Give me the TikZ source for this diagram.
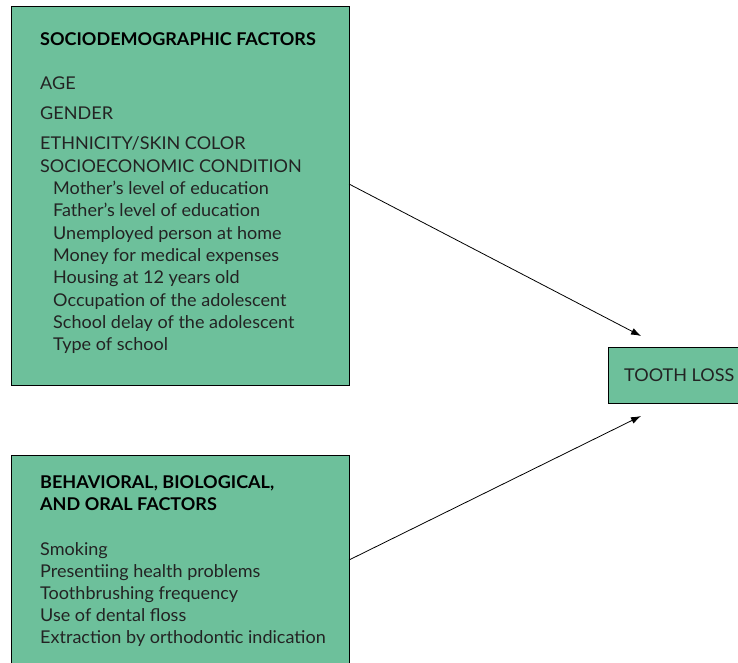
\documentclass[tikz,border=0pt]{standalone}
\usepackage{fontspec}
\setmainfont{Lato}[FakeStretch=1.025]
\usetikzlibrary{arrows.meta}

\definecolor{boxgreen}{RGB}{109,192,155}
\definecolor{inkgray}{RGB}{35,35,35}

\begin{document}
\begin{tikzpicture}[
    x=1pt, y=-1pt,
    factorbox/.style={draw=black, line width=0.8pt, fill=boxgreen, anchor=north west, inner sep=0pt},
    item/.style={anchor=base west, inner sep=0pt, text=inkgray, font=\fontsize{17.6}{19}\selectfont},
    head/.style={item, font=\fontsize{17.6}{19}\selectfont\bfseries, text=black},
    arrow/.style={-{Latex[length=10pt,width=7pt]}, line width=0.8pt}
  ]
  \useasboundingbox (0,0) rectangle (738,663);

  % Boxes
  \node[factorbox, minimum width=338pt, minimum height=379pt] (sociobox) at (11,6) {};
  \node[factorbox, minimum width=338pt, minimum height=230pt] (behavbox) at (11,455) {};
  \node[factorbox, minimum width=140pt, minimum height=56pt]  (lossbox)  at (608,347) {};

  % Sociodemographic factors
  \node[head] (sdhead) at (40,46)  {SOCIODEMOGRAPHIC FACTORS};
  \node[item] (age)    at (40,90)  {AGE};
  \node[item] (gender) at (40,120) {GENDER};
  \node[item] (ethn)   at (40,150) {ETHNICITY/SKIN COLOR};
  \node[item] (socio)  at (40,172) {SOCIOECONOMIC CONDITION};
  \node[item] (mother) at (53,194) {Mother’s level of education};
  \node[item] (father) at (53,216) {Father’s level of education};
  \node[item] (unemp)  at (53,239) {Unemployed person at home};
  \node[item] (money)  at (53,261) {Money for medical expenses};
  \node[item] (house)  at (53,283) {Housing at 12 years old};
  \node[item] (occup)  at (53,306) {Occupation of the adolescent};
  \node[item] (delay)  at (53,328) {School delay of the adolescent};
  \node[item] (school) at (53,350) {Type of school};

  % Behavioral, biological and oral factors
  \node[head] (bhead1) at (40,488) {BEHAVIORAL, BIOLOGICAL,};
  \node[head] (bhead2) at (40,510) {AND ORAL FACTORS};
  \node[item] (smoke)  at (40,555) {Smoking};
  \node[item] (health) at (40,577) {Presentiing health problems};
  \node[item] (brush)  at (40,599) {Toothbrushing frequency};
  \node[item] (floss)  at (40,621) {Use of dental floss};
  \node[item] (extr)   at (40,643) {Extraction by orthodontic indication};

  % Outcome
  \node[item] (loss) at (624,381) {TOOTH LOSS};

  % Arrows
  \coordinate (sdout) at (349,184);
  \coordinate (bhout) at (349,560);
  \coordinate (lossin1) at (641,336);
  \coordinate (lossin2) at (641,416);
  \draw[arrow] (sdout) -- (lossin1);
  \draw[arrow] (bhout) -- (lossin2);
\end{tikzpicture}
\end{document}
